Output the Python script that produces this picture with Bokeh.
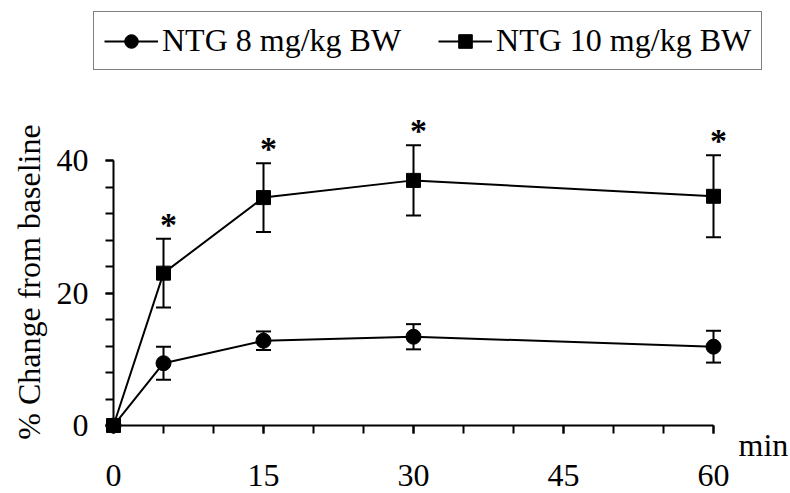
import math
from bokeh.plotting import figure
from bokeh.models import (ColumnDataSource, Range1d, LinearAxis, SingleIntervalTicker,
                          Whisker, TeeHead, Legend, LegendItem, Grid)
from bokeh.core.properties import value
from bokeh.embed import file_html
from bokeh.resources import INLINE

# ---- data ----
time_min = [0, 5, 15, 30, 60]
ntg8_mean = [0, 9.4, 12.8, 13.4, 11.9]
ntg8_sd = [0, 2.5, 1.4, 1.9, 2.4]
ntg10_mean = [0, 23.0, 34.4, 37.0, 34.6]
ntg10_sd = [0, 5.2, 5.2, 5.3, 6.2]
sig_time = [5, 15, 30, 60]          # time points marked with *
x_ticks_interval = 15
y_ticks_interval = 20
label8 = "NTG 8 mg/kg BW"
label10 = "NTG 10 mg/kg BW"
y_title = "% Change from baseline"
x_unit = "min"

FONT = "'Liberation Serif', 'Times New Roman', Times, serif"

src8 = ColumnDataSource(dict(x=time_min, y=ntg8_mean,
                             lo=[m - s for m, s in zip(ntg8_mean, ntg8_sd)],
                             hi=[m + s for m, s in zip(ntg8_mean, ntg8_sd)]))
src10 = ColumnDataSource(dict(x=time_min, y=ntg10_mean,
                              lo=[m - s for m, s in zip(ntg10_mean, ntg10_sd)],
                              hi=[m + s for m, s in zip(ntg10_mean, ntg10_sd)]))

p = figure(width=790, height=493, output_backend="svg", toolbar_location=None,
           x_axis_location=None, y_axis_location=None,
           x_range=Range1d(-11.3, 67.7), y_range=Range1d(-10.26, 64.15),
           min_border=0, min_border_left=0, min_border_right=0,
           min_border_top=0, min_border_bottom=0)
p.outline_line_color = None
p.background_fill_color = "white"
p.border_fill_color = "white"
p.center = [c for c in p.center if not isinstance(c, Grid)]

# axes
xaxis = LinearAxis(fixed_location=0, bounds=(0, 60),
                   ticker=SingleIntervalTicker(interval=x_ticks_interval, num_minor_ticks=3))
yaxis = LinearAxis(fixed_location=0, bounds=(0, 40),
                   ticker=SingleIntervalTicker(interval=y_ticks_interval, num_minor_ticks=5))
for ax in (xaxis, yaxis):
    ax.axis_line_width = 2
    ax.axis_line_color = "black"
    ax.major_tick_line_width = 2
    ax.minor_tick_line_width = 2
    ax.major_tick_line_color = "black"
    ax.minor_tick_line_color = "black"
    ax.major_tick_in = 0
    ax.minor_tick_in = 0
    ax.major_label_text_font = FONT
    ax.major_label_text_font_size = "32px"
    ax.major_label_text_color = "black"
xaxis.major_tick_out = 8
xaxis.minor_tick_out = 8
xaxis.major_label_standoff = 31
yaxis.major_tick_out = 8
yaxis.minor_tick_out = 8
yaxis.major_label_standoff = 17
p.add_layout(xaxis, "below")
p.add_layout(yaxis, "left")

# y-axis title
p.text(x=[-8.5], y=[21.66], text=[y_title], angle=math.pi / 2, text_font=value(FONT),
       text_font_size="32px", text_align="center", text_baseline="middle", text_color="black")

# error bars
for src in (src8, src10):
    w = Whisker(source=src, base="x", upper="hi", lower="lo", line_width=2, line_color="black",
                upper_head=TeeHead(size=15, line_width=2, line_color="black"),
                lower_head=TeeHead(size=15, line_width=2, line_color="black"))
    p.add_layout(w)

l8 = p.line("x", "y", source=src8, line_width=2, line_color="black")
s8 = p.scatter("x", "y", source=src8, marker="circle", size=15, fill_color="black", line_color="black")
l10 = p.line("x", "y", source=src10, line_width=2, line_color="black")
s10 = p.scatter("x", "y", source=src10, marker="square", size=14, fill_color="black", line_color="black")

# significance stars, placed just above the NTG 10 upper error bar
hi10 = dict(zip(time_min, [m + s for m, s in zip(ntg10_mean, ntg10_sd)]))
star_src = ColumnDataSource(dict(x=[t + 0.5 for t in sig_time],
                                 y=[hi10[t] + 2.8 for t in sig_time],
                                 t=["*"] * len(sig_time)))
p.text("x", "y", text="t", source=star_src, text_font=value(FONT), text_font_size="34px",
       text_font_style="bold", text_align="center", text_baseline="alphabetic",
       y_offset=4, text_color="black")

# unit label
p.text(x=[62.5], y=[-2.9], text=[x_unit], text_font=value(FONT), text_font_size="32px",
       text_align="left", text_baseline="alphabetic", text_color="black")

legend = Legend(items=[LegendItem(label=label8, renderers=[l8, s8]),
                       LegendItem(label=label10, renderers=[l10, s10])],
                orientation="horizontal", location=(93, 423))
legend.border_line_color = "black"
legend.border_line_width = 1.5
legend.background_fill_alpha = 1
legend.label_text_font = FONT
legend.label_text_font_size = "32px"
legend.label_text_color = "black"
legend.glyph_width = 54
legend.glyph_height = 34
legend.label_standoff = 4
legend.spacing = 37
legend.padding = 10
legend.margin = 0
p.add_layout(legend)

open("out.html", "w").write(file_html(p, INLINE))
